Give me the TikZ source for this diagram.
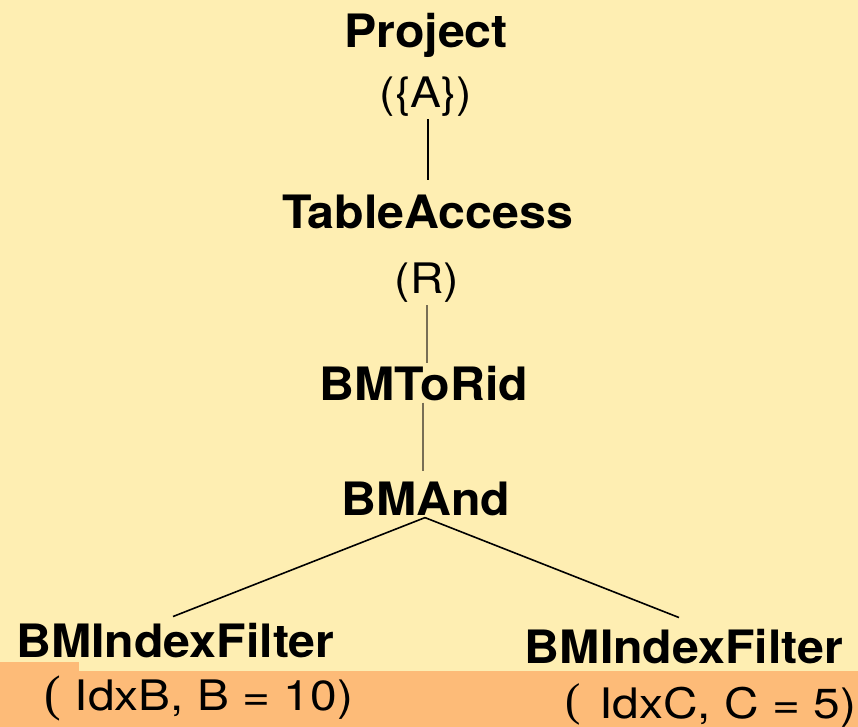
\documentclass[tikz,border=0pt]{standalone}
\usepackage{fontspec}
\setmainfont{TeX Gyre Heros}
\newfontfamily\namefont{TeX Gyre Heros}[FakeStretch=1.05]
\newfontfamily\argfont{TeX Gyre Heros}[FakeStretch=1.1]
\newfontfamily\filtargfont{TeX Gyre Heros}[FakeStretch=1.14]
\newfontfamily\parf{Liberation Serif}
\definecolor{bgyellow}{RGB}{254,238,178}
\definecolor{bgorange}{RGB}{253,187,120}
\definecolor{linkgray}{RGB}{120,110,85}
\begin{document}
\begin{tikzpicture}[x=1pt,y=-1pt,
  opname/.style={font=\namefont\bfseries\fontsize{46}{50}\selectfont, inner sep=0pt, anchor=base},
  oparg/.style={font=\argfont\fontsize{42}{46}\selectfont, inner sep=0pt, anchor=base},
  filtarg/.style={font=\filtargfont\fontsize{42}{46}\selectfont, inner sep=0pt, anchor=base west},
  link/.style={line width=1.6pt, black},
  graylink/.style={line width=1.8pt, linkgray}]
\fill[bgyellow] (0,0) rectangle (858,727);
\fill[bgorange] (0,662) rectangle (79,727);
\fill[bgorange] (79,671) rectangle (858,727);
\useasboundingbox (0,0) rectangle (858,727);

\node[opname] (proj) at (426,48) {Project};
\node[oparg] (projarg) at (426,108) {(\{A\})};
\node[opname] (ta) at (427.5,228) {TableAccess};
\node[oparg] (taarg) at (427,293) {(R)};
\node[opname] (bmr) at (424,400) {BMToRid};
\node[opname] (bma) at (426,515) {BMAnd};
\node[opname] (fl) at (175.5,657) {BMIndexFilter};
\node[opname] (fr) at (684,663) {BMIndexFilter};
\node[filtarg] (flarg) at (44,710) {{\parf\fontsize{50}{54}\selectfont(}\hspace{14pt}IdxB, B = 10)};
\node[filtarg] (frarg) at (565,718) {\raisebox{3pt}{\parf\fontsize{46}{50}\selectfont(}\hspace{19pt}IdxC, C = 5)};

\draw[link] ([xshift=2pt]projarg.south) ++(0,2) coordinate (p1) -- (p1 |- 0,180) coordinate (p2);
\draw[graylink] ([xshift=0pt]taarg.south) ++(0,3) coordinate (t1) -- (t1 |- 0,363);
\draw[graylink] ([xshift=-1pt]bmr.south) ++(0,2) coordinate (r1) -- (r1 |- 0,471);
\coordinate (apex) at ([xshift=-1pt,yshift=-2pt]bma.south);
\draw[link] (apex) -- ([xshift=-2.5pt,yshift=6pt]fl.north);
\draw[link] (apex) -- ([xshift=-5pt,yshift=11pt]fr.north);
\end{tikzpicture}
\end{document}
